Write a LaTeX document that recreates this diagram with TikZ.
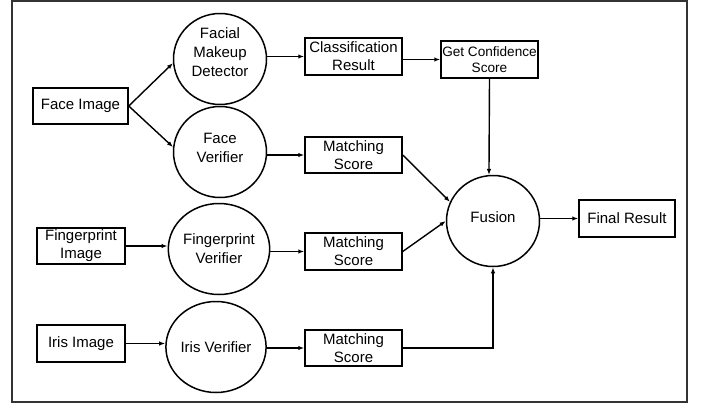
\documentclass[tikz,border=0pt]{standalone}
\usepackage{fontspec}
\setmainfont{Liberation Sans}
\usetikzlibrary{arrows.meta,shapes.geometric}
\begin{document}
\begin{tikzpicture}[x=1pt,y=-1pt,
  box/.style={draw, line width=1.5pt, rectangle, inner sep=1pt, align=center,
    font=\fontsize{15}{18}\selectfont},
  circ/.style={draw, line width=1.5pt, ellipse, inner sep=0pt, minimum width=93pt,
    minimum height=91pt, align=center, font=\fontsize{15}{19}\selectfont},
  txt/.style={align=center, inner sep=0pt, font=\fontsize{15}{19}\selectfont},
  arr/.style={line width=1.4pt, -{Latex[length=6pt,width=4.5pt]}}]
\useasboundingbox (0,0) rectangle (701,407);
\draw[line width=1.5pt, black!80] (12,1) rectangle (687,402);
% boxes
\node[box, minimum width=95pt, minimum height=36pt] (face) at (80.5,106) {Face Image};
\node[box, minimum width=88pt, minimum height=36pt] (fpimg) at (81,246) {Fingerprint\\Image};
\node[box, minimum width=88pt, minimum height=37pt] (irisimg) at (81,343.5) {Iris Image};
% verifiers
\node[circ] (makeup) at (220,59) {};
\node[txt] (makeuptxt) at ([yshift=6.5pt]makeup.center) {Facial\\Makeup\\Detector};
\node[circ] (faceverif) at (220,152) {};
\node[txt] (faceveriftxt) at ([yshift=4pt]faceverif.center) {Face\\Verifier};
\node[circ] (fpverif) at (219,249) {Fingerprint\\Verifier};
\node[circ] (irisverif) at (216,347) {Iris Verifier};
% results
\node[box, minimum width=97pt, minimum height=37pt] (class) at (353.5,56.5) {Classification\\Result};
\node[box, minimum width=97pt, minimum height=37pt, font=\fontsize{13.6}{16}\selectfont] (conf) at (489.5,59.5) {Get Confidence\\Score};
\node[box, minimum width=97pt, minimum height=36pt] (ms1) at (353.5,155) {Matching\\Score};
\node[box, minimum width=97pt, minimum height=37pt] (ms2) at (353.5,251.5) {Matching\\Score};
\node[box, minimum width=97pt, minimum height=36pt] (ms3) at (353.5,348) {Matching\\Score};
\node[circ] (fusion) at (493,221) {};
\node[txt] (fusiontxt) at ([yshift=3.5pt]fusion.center) {Fusion};
\node[box, minimum width=96pt, minimum height=37pt] (final) at (627,218.5) {Final Result};
% connectors
\draw[arr] (face.east) -- (makeup.185);
\draw[arr] (face.east) -- (faceverif.174);
\draw[arr] (fpimg.east) -- (fpverif.west |- fpimg.east);
\draw[arr] (irisimg.east) -- (irisverif.west |- irisimg.east);
\draw[arr] (makeup.east |- class.west) -- (class.west);
\draw[arr] (faceverif.east |- ms1.west) -- (ms1.west);
\draw[arr] (fpverif.east |- ms2.west) -- (ms2.west);
\draw[arr] (irisverif.east |- ms3.west) -- (ms3.west);
\draw[arr] (class.east |- conf.west) -- (conf.west);
\draw[arr] (conf.south) -- (fusion.95);
\draw[arr] (ms1.east) -- (fusion.156);
\draw[arr] (ms2.east) -- (fusion.180);
\draw[arr] (ms3.east) -| (fusion.south);
\draw[arr] (fusion.east |- final.west) -- (final.west);
\end{tikzpicture}
\end{document}
